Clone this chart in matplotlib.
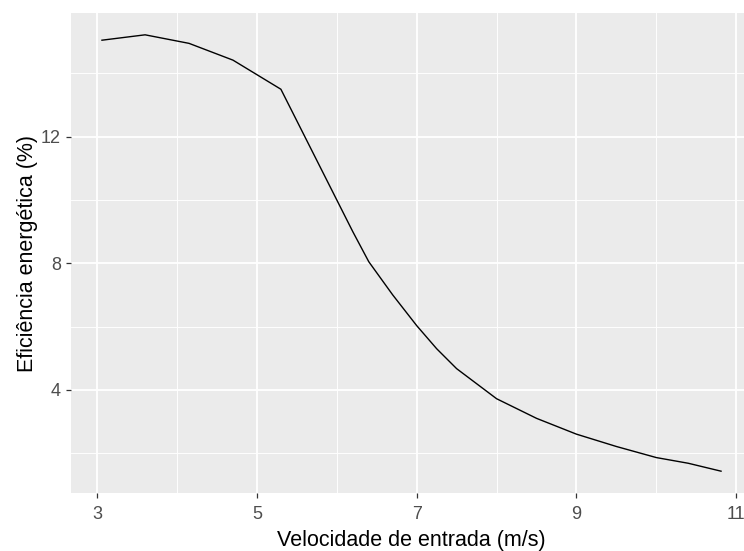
import matplotlib
matplotlib.use("Agg")
import matplotlib.pyplot as plt

# Data
velocidade = [3.06, 3.6, 4.15, 4.7, 5.3, 6.0, 6.2, 6.4, 6.7, 7.0, 7.25, 7.5, 8.0, 8.5, 9.0, 9.5, 10.0, 10.4, 10.81]
eficiencia = [15.05, 15.22, 14.95, 14.42, 13.5, 10.0, 9.0, 8.05, 7.0, 6.03, 5.3, 4.67, 3.72, 3.1, 2.6, 2.21, 1.86, 1.68, 1.43]

x_ticks = [3, 5, 7, 9, 11]
x_minor = [4, 6, 8, 10]
y_ticks = [4, 8, 12]
y_minor = [2, 6, 10, 14]

plt.rcParams['font.family'] = ['Liberation Sans', 'DejaVu Sans']

W, H = 744, 551
fig = plt.figure(figsize=(W / 100, H / 100), dpi=100)
left, right, top, bottom = 71, 752, 13, 493
ax = fig.add_axes([left / W, 1 - bottom / H, (right - left) / W, (bottom - top) / H])
ax.set_facecolor('#EBEBEB')
for s in ax.spines.values():
    s.set_visible(False)

ax.plot(velocidade, eficiencia, color='black', lw=1.0, zorder=3)

xmin, xmax = min(velocidade), max(velocidade)
ymin, ymax = min(eficiencia), max(eficiencia)
dx = (xmax - xmin) * 0.05
dy = (ymax - ymin) * 0.05
ax.set_xlim(xmin - dx, xmax + dx)
ax.set_ylim(ymin - dy, ymax + dy)

ax.set_xticks(x_ticks)
ax.set_xticks(x_minor, minor=True)
ax.set_yticks(y_ticks)
ax.set_yticks(y_minor, minor=True)
ax.grid(which='major', color='white', lw=1.3, zorder=0)
ax.grid(which='minor', color='white', lw=0.65, zorder=0)
ax.set_axisbelow(True)

ax.tick_params(which='major', length=3.6, width=0.9, color='#333333',
               labelcolor='#4D4D4D', labelsize=13)
ax.tick_params(axis='x', which='major', pad=5.5)
ax.tick_params(axis='y', which='major', pad=3.6)
ax.tick_params(which='minor', length=0)

ax.set_xlabel('Velocidade de entrada (m/s)', fontsize=15.5, color='black', labelpad=5)
ax.set_ylabel('Eficiência energética (%)', fontsize=15.5, color='black', labelpad=2.5)

fig.savefig('out.png', dpi=100)
